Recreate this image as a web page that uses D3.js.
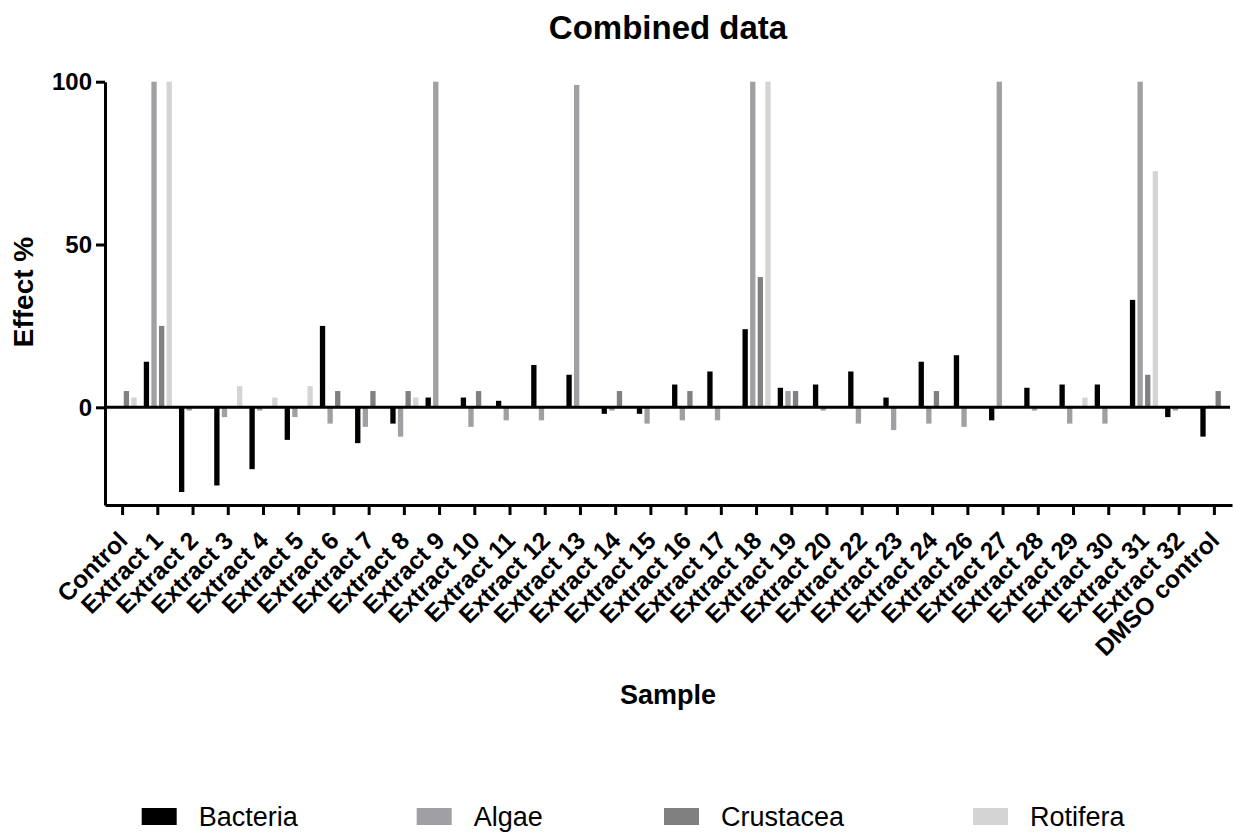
<!DOCTYPE html>
<html>
<head>
<meta charset="utf-8">
<script src="https://cdn.jsdelivr.net/npm/d3@7"></script>
<style>
    body { margin: 0; background: #fff; }
    svg { display: block; font-family: "Liberation Sans", Arial, sans-serif; }
</style>
</head>
<body>
<div id="chart"></div>
<script>
var samples = ["Control", "Extract 1", "Extract 2", "Extract 3", "Extract 4", "Extract 5", "Extract 6",
    "Extract 7", "Extract 8", "Extract 9", "Extract 10", "Extract 11", "Extract 12", "Extract 13",
    "Extract 14", "Extract 15", "Extract 16", "Extract 17", "Extract 18", "Extract 19", "Extract 20",
    "Extract 22", "Extract 23", "Extract 24", "Extract 26", "Extract 27", "Extract 28", "Extract 29",
    "Extract 30", "Extract 31", "Extract 32", "DMSO control"];

var seriesNames = ["Bacteria", "Algae", "Crustacea", "Rotifera"];

var bacteria = [0, 14, -26, -24, -19, -10, 25, -11, -5, 3, 3, 2, 13, 10, -2, -2, 7, 11, 24, 6, 7,
    11, 3, 14, 16, -4, 6, 7, 7, 33, -3, -9];
var algae = [0, 100, -1, -3, -1, -3, -5, -6, -9, 100, -6, -4, -4, 99, -1, -5, -4, -4, 100, 5, -1,
    -5, -7, -5, -6, 100, -1, -5, -5, 100, -1, 0.5];
var crustacea = [5, 25, 0, 0, 0, 0, 5, 5, 5, 0, 5, 0, 0, 0, 5, 0, 5, 0, 40, 5, 0,
    0, 0, 5, 0, 0, 0, 0, 0, 10, 0, 5];
var rotifera = [3, 100, 0, 6.5, 3, 6.5, 0, 0, 3, 0, 0, 0, 0, 0, 0, 0, 0, 0, 100, 0, 0,
    0, 0, 0, 0, 0, 0, 3, 0, 72.5, 0, 0];

var yTicks = [0, 50, 100];

var width = 1235, height = 832;
var colors = ["#000000", "#a0a0a4", "#808080", "#d4d4d4"];
var seriesValues = [bacteria, algae, crustacea, rotifera];

var svg = d3.select("#chart").append("svg")
    .attr("width", width)
    .attr("height", height);

var x0 = d3.scaleBand().domain(samples).range([105, 1232]).padding(0);
var x1 = d3.scaleBand().domain(seriesNames).range([-14.05, 14.05]).paddingInner(0.3).paddingOuter(0);
var y = d3.scaleLinear().domain([-30, 100]).range([505, 81.7]);

// bars
var groups = svg.append("g").selectAll("g")
    .data(samples)
    .enter().append("g")
    .attr("transform", function (d) { return "translate(" + (x0(d) + x0.bandwidth() / 2) + ",0)"; });

groups.selectAll("rect")
    .data(function (d, i) {
        return seriesNames.map(function (s, j) {
            return { series: s, value: seriesValues[j][i], color: colors[j] };
        });
    })
    .enter().append("rect")
    .attr("x", function (d) { return x1(d.series); })
    .attr("width", x1.bandwidth())
    .attr("y", function (d) { return y(Math.max(0, d.value)); })
    .attr("height", function (d) { return Math.abs(y(d.value) - y(0)); })
    .attr("fill", function (d) { return d.color; });

// zero line
svg.append("line")
    .attr("x1", 105)
    .attr("x2", 1230)
    .attr("y1", y(0))
    .attr("y2", y(0))
    .attr("stroke", "#000")
    .attr("stroke-width", 3);

// x axis
var xAxis = svg.append("g")
    .attr("transform", "translate(0," + y(-30) + ")")
    .call(d3.axisBottom(x0).tickSize(10).tickSizeOuter(0));
xAxis.select(".domain").attr("stroke-width", 3);
xAxis.selectAll(".tick line").attr("stroke-width", 3);
xAxis.selectAll(".tick text")
    .attr("x", 0)
    .attr("y", 0)
    .attr("dy", 0)
    .attr("transform", "translate(6.5,37) rotate(-45)")
    .style("text-anchor", "end")
    .attr("font-size", 24.5)
    .attr("font-weight", "bold")
    .attr("font-family", "'Liberation Sans', Arial, sans-serif")
    .attr("fill", "#000");

// y axis
var yAxis = svg.append("g")
    .attr("transform", "translate(105,0)")
    .call(d3.axisLeft(y).tickValues(yTicks).tickSize(9).tickSizeOuter(0).tickPadding(4));
yAxis.select(".domain").attr("stroke-width", 3);
yAxis.selectAll(".tick line").attr("stroke-width", 3);
yAxis.selectAll(".tick text")
    .attr("font-size", 24)
    .attr("font-weight", "bold")
    .attr("font-family", "'Liberation Sans', Arial, sans-serif")
    .attr("fill", "#000");

// titles
svg.append("text")
    .attr("x", 668)
    .attr("y", 39)
    .attr("text-anchor", "middle")
    .attr("font-size", 33)
    .attr("font-weight", "bold")
    .text("Combined data");

svg.append("text")
    .attr("x", 668)
    .attr("y", 704)
    .attr("text-anchor", "middle")
    .attr("font-size", 27)
    .attr("font-weight", "bold")
    .text("Sample");

svg.append("text")
    .attr("transform", "translate(33,292) rotate(-90)")
    .attr("text-anchor", "middle")
    .attr("font-size", 28)
    .attr("font-weight", "bold")
    .text("Effect %");

// legend
var legendX = [141.7, 416.7, 664, 973];
var legend = svg.append("g").selectAll("g")
    .data(seriesNames)
    .enter().append("g")
    .attr("transform", function (d, i) { return "translate(" + legendX[i] + ",808)"; });
legend.append("rect")
    .attr("width", 35)
    .attr("height", 17)
    .attr("fill", function (d, i) { return colors[i]; });
legend.append("text")
    .attr("x", 57)
    .attr("y", 17.5)
    .attr("font-size", 27)
    .text(function (d) { return d; });
</script>
</body>
</html>
